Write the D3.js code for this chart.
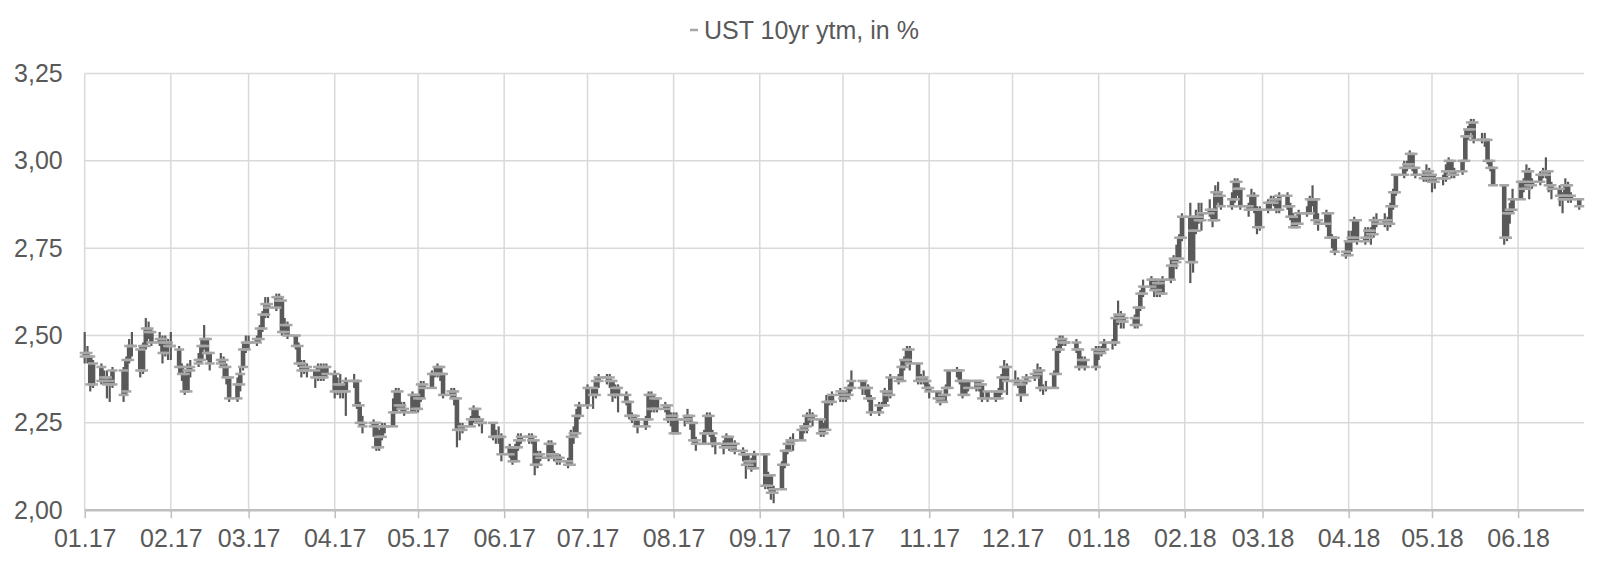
<!DOCTYPE html>
<html><head><meta charset="utf-8">
<script src="https://cdn.jsdelivr.net/npm/d3@7"></script>
<style>
body{margin:0;background:#fff;}
svg{display:block;}
text{font-family:"Liberation Sans",Arial,sans-serif;fill:#595959;}
</style>
</head><body>
<svg id="c" width="1600" height="567"></svg>
<script>
// ---------- data ----------
const startDate = "2017-01-03";
const endDate = "2018-06-25";
const holidays = ["2017-01-16","2017-02-20","2017-04-14","2017-05-29","2017-07-04","2017-09-04","2017-10-09",
  "2017-11-23","2017-12-25","2018-01-01","2018-01-15","2018-02-19","2018-03-30","2018-05-28"];
const seriesName = "UST 10yr ytm, in %";
const yTicks = [2.00, 2.25, 2.50, 2.75, 3.00, 3.25];
const xTickDates = ["2017-01-03","2017-02-03","2017-03-03","2017-04-03","2017-05-03","2017-06-03","2017-07-03",
  "2017-08-03","2017-09-03","2017-10-03","2017-11-03","2017-12-03","2018-01-03","2018-02-03","2018-03-03",
  "2018-04-03","2018-05-03","2018-06-03"];
const xTickLabels = ["01.17","02.17","03.17","04.17","05.17","06.17","07.17","08.17","09.17","10.17","11.17",
  "12.17","01.18","02.18","03.18","04.18","05.18","06.18"];

const open = [
 2.44,2.45,2.44,2.36,2.41,2.37,2.38,2.37,2.36,2.40,2.34,2.43,2.47,2.46,2.40,2.47,2.52,2.51,2.48,2.49, // Jan17
 2.45,2.48,2.47,2.46,2.41,2.39,2.34,2.40,2.42,2.43,2.47,2.49,2.45,2.42,2.43,2.41,2.38,2.32,2.36, // Feb17
 2.41,2.46,2.48,2.48,2.49,2.52,2.56,2.59,2.58,2.61,2.60,2.51,2.53,2.50,2.47,2.42,2.40,2.41,2.40,2.38,2.41,2.38,2.41, // Mar17
 2.39,2.34,2.36,2.34,2.34,2.37,2.37,2.30,2.25,2.24,2.25,2.18,2.21,2.24,2.24,2.28,2.34,2.30,2.29, // Apr17
 2.28,2.33,2.29,2.32,2.36,2.35,2.39,2.39,2.41,2.39,2.33,2.34,2.32,2.23,2.23,2.24,2.26,2.29,2.26,2.25,2.25,2.21, // May17
 2.21,2.21,2.16,2.18,2.14,2.18,2.20,2.21,2.21,2.20,2.13,2.16,2.15,2.19,2.16,2.15,2.15,2.14,2.13,2.21,2.22,2.27, // Jun17
 2.30,2.35,2.33,2.37,2.38,2.38,2.37,2.33,2.35,2.33,2.31,2.27,2.27,2.26,2.24,2.26,2.33,2.29,2.32,2.29, // Jul17
 2.30,2.26,2.27,2.22,2.26,2.26,2.27,2.25,2.20,2.19,2.22,2.27,2.22,2.19,2.19,2.18,2.21,2.18,2.19,2.17,2.16,2.13,2.14, // Aug17
 2.12,2.16,2.07,2.10,2.05,2.06,2.13,2.17,2.19,2.20,2.20,2.23,2.24,2.27,2.27,2.26,2.22,2.23,2.31,2.31, // Sep17
 2.33,2.34,2.32,2.33,2.35,2.37,2.35,2.35,2.32,2.28,2.30,2.30,2.34,2.33,2.38,2.37,2.41,2.43,2.46,2.42,2.37, // Oct17
 2.38,2.37,2.35,2.34,2.32,2.31,2.33,2.35,2.40,2.40,2.37,2.33,2.37,2.35,2.37,2.36,2.32,2.34,2.32,2.34,2.38, // Nov17
 2.41,2.37,2.37,2.36,2.33,2.37,2.38,2.39,2.40,2.35,2.35,2.35,2.39,2.46,2.49,2.48,2.48,2.46,2.41,2.43, // Dec17
 2.41,2.46,2.45,2.46,2.48,2.48,2.55,2.56,2.54,2.55,2.53,2.58,2.62,2.64,2.66,2.63,2.65,2.62,2.66,2.70,2.72, // Jan18
 2.72,2.78,2.84,2.71,2.80,2.84,2.83,2.85,2.86,2.83,2.91,2.90,2.87,2.89,2.94,2.92,2.87,2.86,2.90, // Feb18
 2.86,2.81,2.86,2.88,2.88,2.89,2.86,2.90,2.87,2.84,2.81,2.82,2.85,2.85,2.89,2.89,2.83,2.82,2.85,2.78,2.78, // Mar18
 2.74,2.73,2.77,2.78,2.83,2.77,2.78,2.80,2.79,2.83,2.82,2.83,2.82,2.87,2.91,2.96,2.98,2.99,3.02,2.98,2.96, // Apr18
 2.95,2.97,2.96,2.94,2.95,2.95,2.97,3.00,2.96,2.97,3.00,3.07,3.09,3.11,3.06,3.06,3.06,3.00,2.98,2.93,2.78,2.85, // May18
 2.86,2.89,2.94,2.92,2.97,2.93,2.94,2.96,2.96,2.97,2.93,2.92,2.90,2.89,2.93,2.90,2.89 // Jun18
];
const high = [
 2.51,2.47,2.44,2.43,2.42,2.40,2.40,2.38,2.41,2.41,2.44,2.49,2.51,2.47,2.48,2.55,2.54,2.52,2.51,2.50,
 2.50,2.49,2.51,2.47,2.42,2.39,2.42,2.43,2.45,2.49,2.53,2.49,2.45,2.45,2.44,2.42,2.38,2.38,2.41,
 2.48,2.50,2.50,2.50,2.53,2.57,2.61,2.61,2.62,2.62,2.61,2.55,2.54,2.50,2.48,2.43,2.43,2.42,2.40,2.42,2.42,2.42,2.42,
 2.40,2.38,2.39,2.36,2.38,2.39,2.37,2.31,2.27,2.26,2.25,2.23,2.25,2.25,2.32,2.35,2.35,2.31,2.31,
 2.34,2.33,2.33,2.37,2.37,2.40,2.41,2.42,2.41,2.39,2.35,2.35,2.32,2.25,2.25,2.27,2.30,2.29,2.27,2.26,2.25,2.23,
 2.24,2.22,2.19,2.18,2.19,2.22,2.22,2.22,2.22,2.20,2.17,2.17,2.20,2.20,2.17,2.16,2.16,2.15,2.23,2.24,2.29,2.31,
 2.36,2.35,2.38,2.39,2.39,2.39,2.37,2.36,2.36,2.34,2.31,2.28,2.27,2.26,2.27,2.34,2.34,2.33,2.32,2.31,
 2.30,2.28,2.28,2.28,2.27,2.29,2.27,2.25,2.21,2.23,2.28,2.28,2.23,2.21,2.20,2.22,2.21,2.21,2.20,2.18,2.16,2.16,2.15,
 2.17,2.16,2.11,2.10,2.07,2.14,2.17,2.20,2.21,2.22,2.24,2.25,2.28,2.29,2.28,2.26,2.25,2.33,2.33,2.34,
 2.35,2.34,2.34,2.36,2.40,2.37,2.37,2.36,2.33,2.31,2.31,2.35,2.34,2.39,2.39,2.43,2.44,2.47,2.47,2.42,2.39,
 2.40,2.38,2.36,2.34,2.34,2.33,2.36,2.40,2.41,2.40,2.37,2.37,2.37,2.37,2.37,2.36,2.34,2.34,2.35,2.39,2.43,
 2.42,2.40,2.38,2.36,2.37,2.39,2.40,2.42,2.41,2.36,2.37,2.40,2.47,2.50,2.50,2.49,2.49,2.46,2.44,2.44,
 2.47,2.47,2.47,2.49,2.49,2.56,2.60,2.57,2.56,2.56,2.58,2.63,2.66,2.67,2.66,2.66,2.66,2.67,2.72,2.73,2.76,
 2.79,2.85,2.88,2.84,2.86,2.88,2.88,2.89,2.86,2.93,2.94,2.91,2.91,2.95,2.95,2.92,2.88,2.92,2.91,
 2.87,2.87,2.89,2.90,2.90,2.89,2.91,2.91,2.88,2.85,2.84,2.86,2.87,2.90,2.93,2.89,2.85,2.86,2.85,2.79,2.78,
 2.77,2.80,2.80,2.84,2.83,2.81,2.81,2.81,2.84,2.85,2.85,2.84,2.88,2.92,2.96,3.00,3.00,3.03,3.02,2.98,2.97,
 2.99,2.98,2.96,2.96,2.96,2.99,3.01,3.00,2.98,3.00,3.09,3.10,3.12,3.12,3.08,3.08,3.06,3.00,2.98,2.93,2.86,2.88,
 2.92,2.94,2.95,2.99,2.98,2.95,2.97,2.98,3.01,2.97,2.94,2.93,2.91,2.95,2.94,2.91,2.89
];
const low = [
 2.42,2.42,2.34,2.35,2.36,2.36,2.32,2.31,2.35,2.31,2.33,2.42,2.44,2.38,2.39,2.46,2.49,2.47,2.47,2.42,
 2.44,2.43,2.43,2.39,2.37,2.33,2.34,2.38,2.41,2.42,2.46,2.43,2.40,2.41,2.38,2.36,2.31,2.31,2.34,
 2.40,2.45,2.46,2.47,2.48,2.51,2.55,2.55,2.57,2.58,2.50,2.50,2.49,2.46,2.41,2.38,2.39,2.38,2.35,2.37,2.37,2.37,2.38,
 2.32,2.33,2.32,2.32,2.27,2.35,2.29,2.24,2.22,2.21,2.17,2.17,2.20,2.22,2.24,2.28,2.29,2.28,2.27,
 2.28,2.28,2.28,2.31,2.32,2.35,2.38,2.38,2.37,2.32,2.32,2.30,2.18,2.20,2.22,2.24,2.25,2.25,2.24,2.22,2.20,2.19,
 2.19,2.14,2.15,2.13,2.14,2.17,2.19,2.19,2.19,2.10,2.12,2.14,2.14,2.15,2.14,2.13,2.13,2.12,2.13,2.19,2.21,2.26,
 2.29,2.29,2.32,2.35,2.36,2.35,2.31,2.32,2.28,2.30,2.26,2.25,2.24,2.22,2.23,2.26,2.28,2.28,2.28,2.28,
 2.25,2.24,2.22,2.22,2.24,2.25,2.23,2.19,2.17,2.19,2.22,2.21,2.18,2.16,2.16,2.18,2.17,2.17,2.16,2.14,2.09,2.12,2.11,
 2.12,2.06,2.06,2.03,2.02,2.06,2.12,2.16,2.17,2.17,2.20,2.22,2.22,2.25,2.24,2.21,2.21,2.23,2.30,2.30,
 2.31,2.31,2.31,2.32,2.34,2.33,2.33,2.31,2.27,2.27,2.29,2.30,2.31,2.32,2.36,2.37,2.40,2.42,2.40,2.36,2.36,
 2.36,2.34,2.32,2.31,2.30,2.31,2.31,2.35,2.38,2.36,2.32,2.33,2.34,2.34,2.34,2.31,2.31,2.31,2.32,2.33,2.37,
 2.33,2.36,2.35,2.31,2.33,2.36,2.37,2.38,2.34,2.33,2.34,2.35,2.39,2.45,2.47,2.47,2.45,2.40,2.41,2.40,
 2.40,2.43,2.44,2.45,2.46,2.47,2.53,2.52,2.52,2.52,2.52,2.57,2.61,2.63,2.61,2.61,2.61,2.62,2.65,2.66,2.69,
 2.72,2.77,2.65,2.68,2.79,2.82,2.80,2.84,2.81,2.83,2.88,2.86,2.86,2.88,2.90,2.86,2.84,2.86,2.85,
 2.79,2.80,2.85,2.86,2.87,2.85,2.85,2.86,2.83,2.81,2.81,2.82,2.84,2.85,2.87,2.82,2.80,2.81,2.78,2.75,2.73,
 2.72,2.73,2.74,2.77,2.76,2.76,2.77,2.76,2.78,2.81,2.81,2.80,2.81,2.86,2.90,2.95,2.97,2.98,2.97,2.95,2.94,
 2.94,2.94,2.91,2.92,2.93,2.94,2.97,2.95,2.95,2.96,3.00,3.06,3.08,3.05,3.05,3.04,2.99,2.97,2.93,2.76,2.77,2.82,
 2.85,2.89,2.91,2.92,2.89,2.92,2.93,2.95,2.95,2.91,2.89,2.87,2.85,2.89,2.88,2.88,2.86
];
const close = [
 2.45,2.44,2.36,2.42,2.37,2.38,2.36,2.36,2.40,2.33,2.43,2.47,2.47,2.40,2.47,2.52,2.51,2.48,2.49,2.45,
 2.48,2.47,2.47,2.41,2.39,2.34,2.40,2.41,2.43,2.47,2.49,2.45,2.42,2.43,2.41,2.38,2.32,2.36,2.39,
 2.46,2.48,2.48,2.49,2.52,2.56,2.59,2.58,2.61,2.60,2.51,2.53,2.50,2.47,2.42,2.40,2.41,2.40,2.38,2.41,2.38,2.41,2.39,
 2.34,2.36,2.34,2.34,2.37,2.37,2.30,2.25,2.24,2.25,2.18,2.21,2.24,2.24,2.28,2.34,2.30,2.29,2.28,
 2.33,2.29,2.32,2.36,2.35,2.39,2.39,2.41,2.39,2.33,2.34,2.32,2.23,2.23,2.24,2.26,2.29,2.26,2.25,2.25,2.21,2.21,
 2.21,2.16,2.18,2.14,2.18,2.20,2.21,2.21,2.20,2.13,2.16,2.15,2.19,2.16,2.15,2.15,2.14,2.13,2.21,2.22,2.27,2.30,
 2.35,2.33,2.37,2.38,2.38,2.37,2.33,2.35,2.33,2.31,2.27,2.27,2.26,2.24,2.26,2.33,2.29,2.32,2.29,2.30,
 2.26,2.27,2.22,2.26,2.26,2.27,2.25,2.20,2.19,2.22,2.27,2.22,2.19,2.19,2.18,2.21,2.18,2.19,2.17,2.16,2.13,2.14,2.12,
 2.16,2.07,2.10,2.05,2.06,2.13,2.17,2.19,2.20,2.20,2.23,2.24,2.27,2.27,2.26,2.22,2.23,2.31,2.31,2.33,
 2.34,2.32,2.33,2.35,2.37,2.35,2.35,2.32,2.28,2.30,2.30,2.34,2.33,2.38,2.37,2.41,2.43,2.46,2.42,2.37,2.38,
 2.37,2.35,2.34,2.32,2.31,2.33,2.35,2.40,2.40,2.37,2.33,2.37,2.35,2.37,2.36,2.32,2.34,2.32,2.34,2.38,2.41,
 2.37,2.37,2.36,2.33,2.37,2.38,2.39,2.40,2.35,2.35,2.35,2.39,2.46,2.49,2.48,2.48,2.46,2.41,2.43,2.41,
 2.46,2.45,2.46,2.48,2.48,2.55,2.56,2.54,2.55,2.53,2.58,2.62,2.64,2.66,2.63,2.65,2.62,2.66,2.70,2.72,2.71,
 2.78,2.84,2.71,2.80,2.84,2.83,2.85,2.86,2.83,2.91,2.90,2.87,2.89,2.94,2.92,2.87,2.86,2.90,2.86,
 2.81,2.86,2.88,2.88,2.89,2.86,2.90,2.87,2.84,2.81,2.82,2.85,2.85,2.89,2.89,2.83,2.82,2.85,2.78,2.78,2.74,
 2.73,2.77,2.78,2.83,2.77,2.78,2.80,2.79,2.83,2.82,2.83,2.82,2.87,2.91,2.96,2.98,2.99,3.02,2.98,2.96,2.95,
 2.97,2.96,2.94,2.95,2.95,2.97,3.00,2.96,2.97,3.00,3.07,3.09,3.11,3.06,3.06,3.06,3.00,2.98,2.93,2.78,2.85,2.86,
 2.89,2.94,2.92,2.97,2.93,2.94,2.96,2.96,2.97,2.93,2.92,2.90,2.89,2.93,2.90,2.89,2.87
];

// ---------- trading days (weekdays minus market holidays) ----------
const parse = d3.utcParse("%Y-%m-%d");
const fmt = d3.utcFormat("%Y-%m-%d");
const hol = new Set(holidays);
const dates = d3.utcDay.range(parse(startDate), d3.utcDay.offset(parse(endDate), 1))
  .filter(d => d.getUTCDay() !== 0 && d.getUTCDay() !== 6 && !hol.has(fmt(d)));
if (dates.length !== close.length) console.error("length mismatch", dates.length, close.length);
const rows = dates.map((d, i) => ({d, o: open[i], h: high[i], l: low[i], c: close[i]}))
  .filter(r => r.c !== undefined);

// ---------- chart ----------
const FONT = '"Liberation Sans", Arial, sans-serif';
const svg = d3.select("#c");
const x = d3.scaleUtc().domain([parse("2017-01-03"), parse("2018-06-26")]).range([84.7, 1582]);
const y = d3.scaleLinear().domain([2, 3.25]).range([510.2, 73.5]);
const xLeft = 84.7, xRight = 1584;

const grid = svg.append("g");
grid.selectAll("line.h").data(yTicks.slice(1)).join("line")
  .attr("x1", xLeft).attr("x2", xRight)
  .attr("y1", d => y(d)).attr("y2", d => y(d))
  .attr("stroke", "#d9d9d9").attr("stroke-width", 1.5);
grid.selectAll("line.v").data(xTickDates).join("line")
  .attr("x1", d => x(parse(d))).attr("x2", d => x(parse(d)))
  .attr("y1", y(3.25)).attr("y2", y(2))
  .attr("stroke", "#d9d9d9").attr("stroke-width", 1.5);

// x axis
const xAxis = d3.axisBottom(x)
  .tickValues(xTickDates.map(parse))
  .tickFormat((d, i) => xTickLabels[i])
  .tickSize(8).tickPadding(11).tickSizeOuter(0);
const gx = svg.append("g").attr("transform", `translate(0,${y(2)})`).call(xAxis);
gx.select(".domain").attr("d", `M${xLeft},0H${xRight}`).attr("stroke", "#bfbfbf").attr("stroke-width", 2.5);
gx.selectAll(".tick line").attr("stroke", "#bfbfbf").attr("stroke-width", 1.5);
gx.selectAll(".tick text").attr("fill", "#595959").style("font-size", "25px").style("font-family", FONT);

// y axis labels
const yAxis = d3.axisLeft(y).tickValues(yTicks)
  .tickFormat(d => d3.format(".2f")(d).replace(".", ","))
  .tickSize(0).tickPadding(22);
const gy = svg.append("g").attr("transform", `translate(${xLeft},0)`).call(yAxis);
gy.select(".domain").remove();
gy.selectAll(".tick text").attr("fill", "#595959").style("font-size", "25px").style("font-family", FONT);

// OHLC marks
const marks = svg.append("g");
marks.selectAll("line.hl").data(rows).join("line")
  .attr("x1", r => x(r.d)).attr("x2", r => x(r.d))
  .attr("y1", r => y(r.h)).attr("y2", r => y(r.l))
  .attr("stroke", "#595959").attr("stroke-width", 2.2);
marks.selectAll("rect.body").data(rows).join("rect")
  .attr("x", r => x(r.d) - 2.3).attr("width", 4.6)
  .attr("y", r => y(Math.max(r.o, r.c)))
  .attr("height", r => Math.abs(y(r.o) - y(r.c)))
  .attr("fill", "#595959");
const tickData = rows.flatMap(r => [{d: r.d, v: r.o}, {d: r.d, v: r.c}]);
marks.selectAll("line.tk").data(tickData).join("line")
  .attr("x1", t => x(t.d) - 5).attr("x2", t => x(t.d) + 5)
  .attr("y1", t => y(t.v)).attr("y2", t => y(t.v))
  .attr("stroke", "#a6a6a6").attr("stroke-width", 2.5);

// title / legend
const tg = svg.append("g");
tg.append("text").attr("x", 704).attr("y", 39)
  .style("font-size", "25px").style("font-family", FONT).text(seriesName);
tg.append("line").attr("x1", 690).attr("x2", 698).attr("y1", 30).attr("y2", 30)
  .attr("stroke", "#a6a6a6").attr("stroke-width", 2.5);
</script>
</body></html>
